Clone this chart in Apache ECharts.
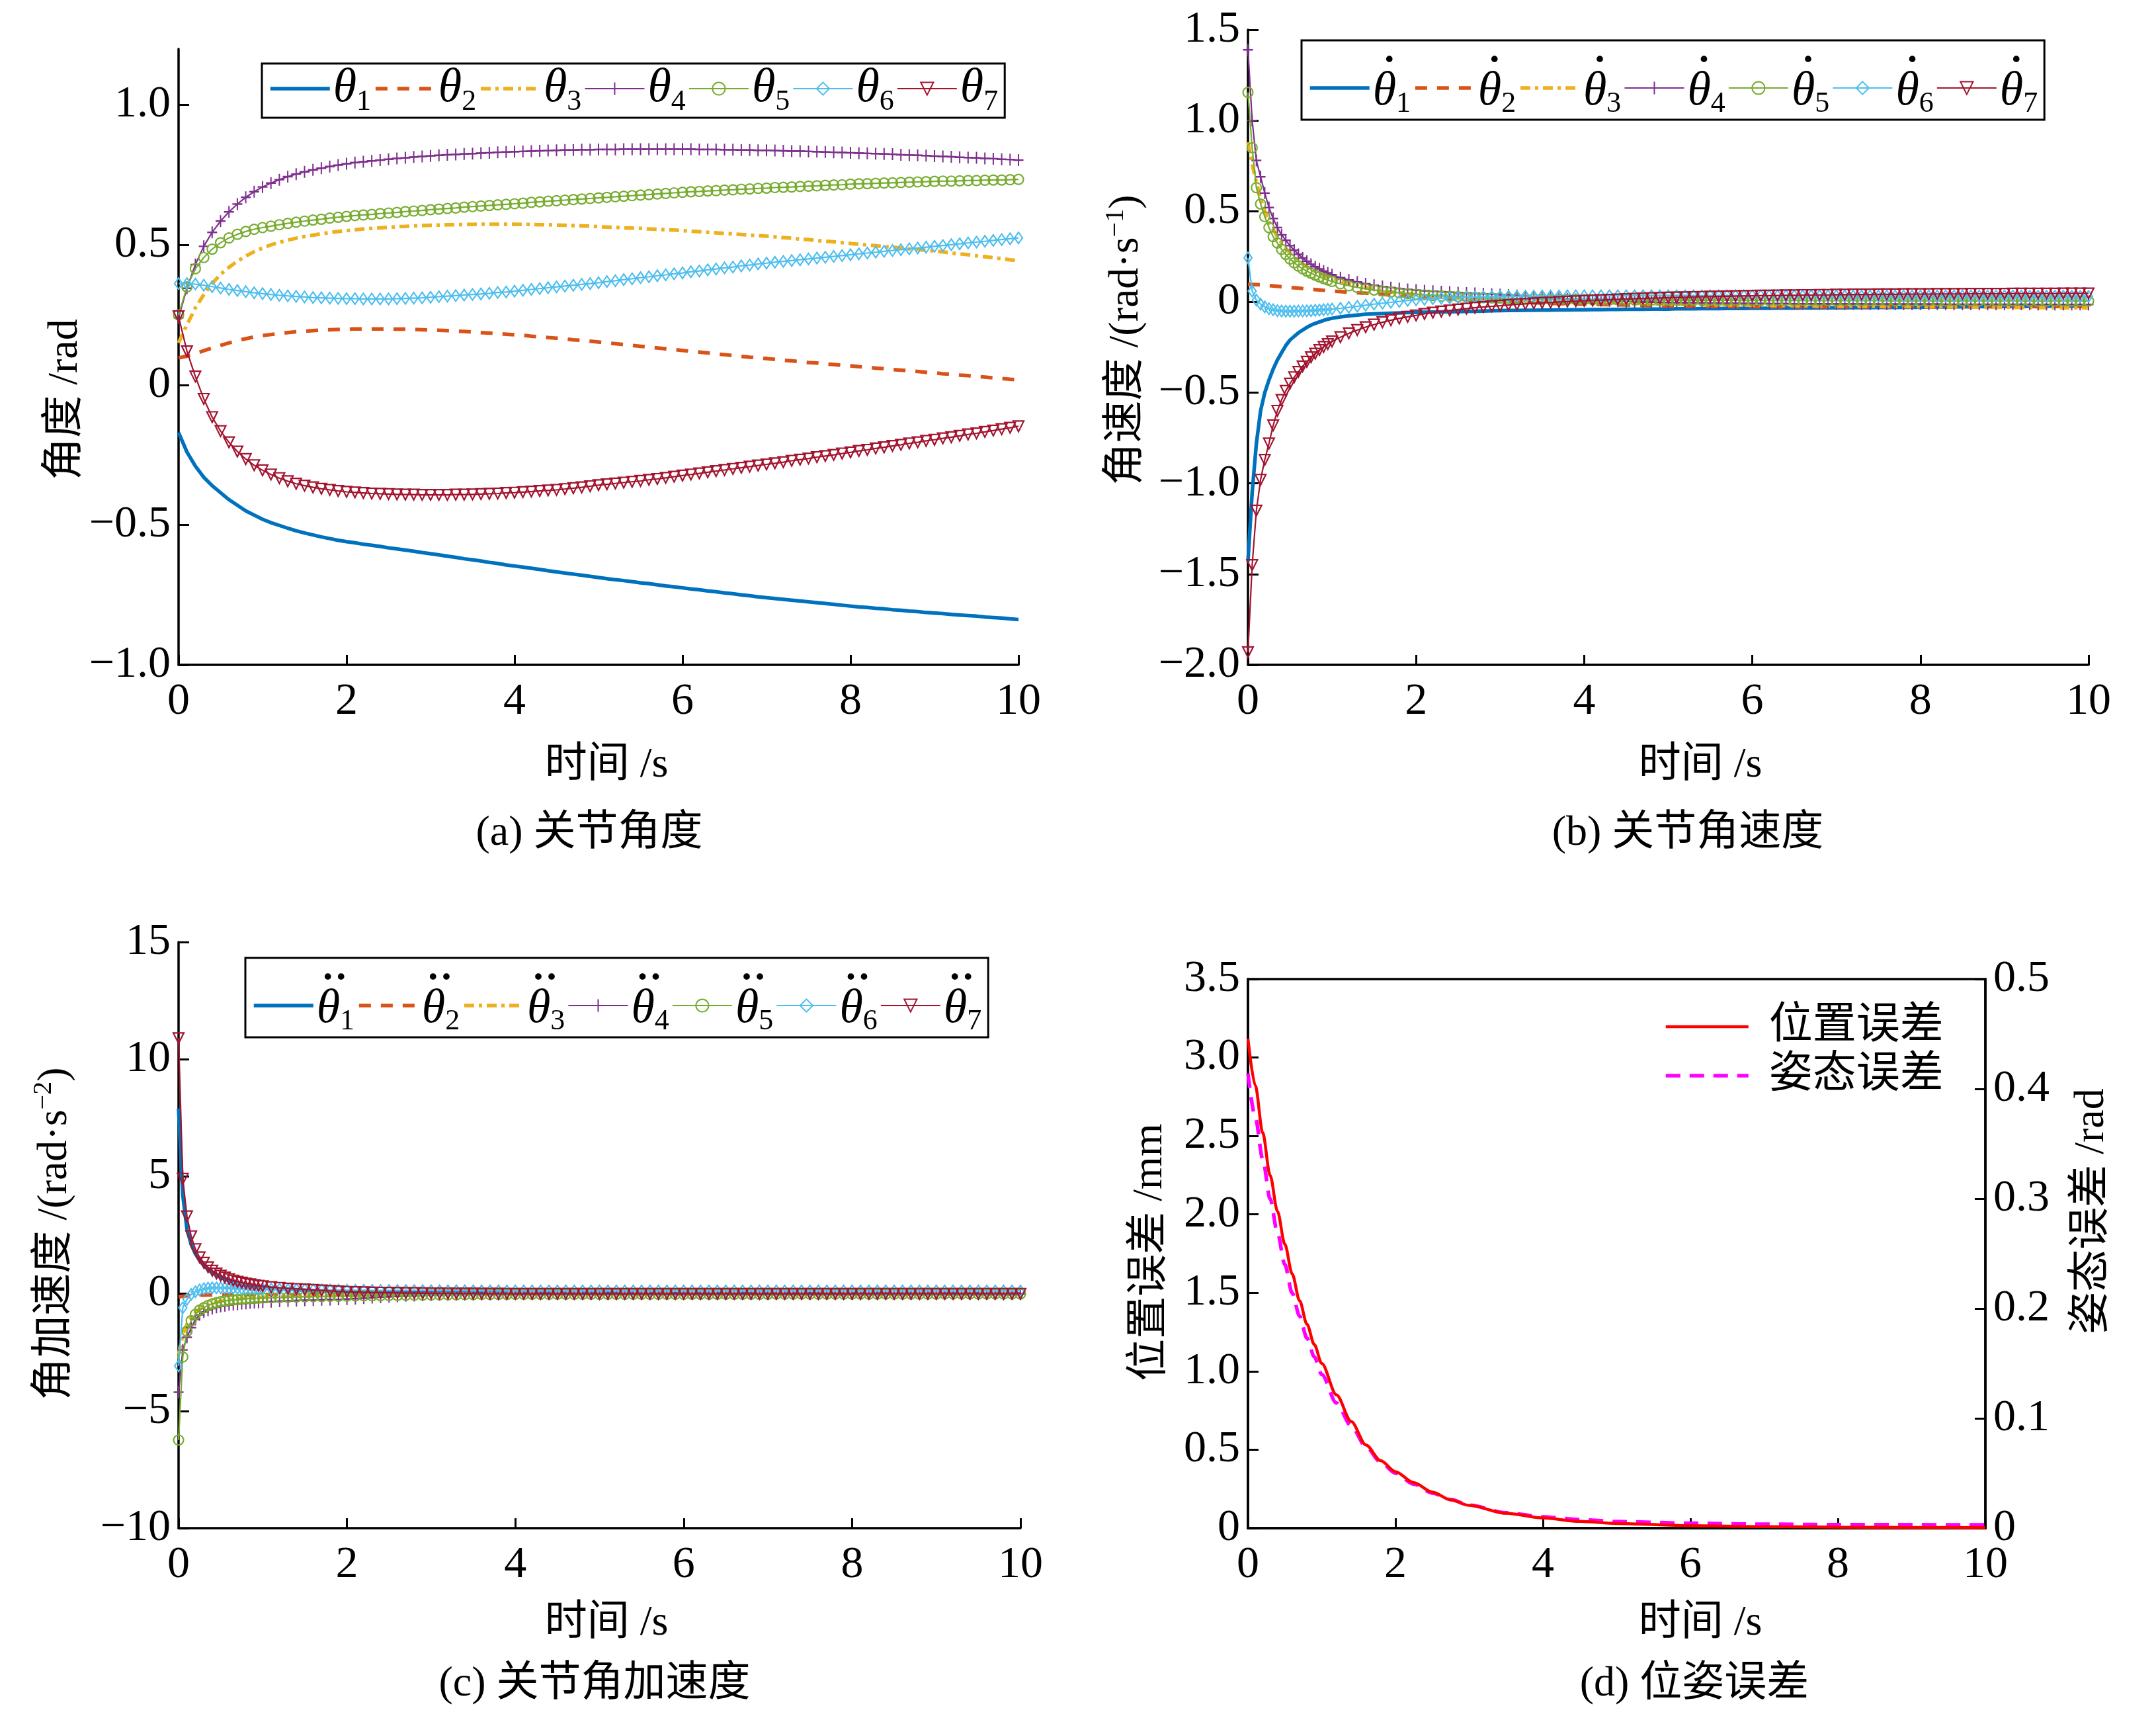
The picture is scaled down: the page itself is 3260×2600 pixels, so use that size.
<!DOCTYPE html>
<html>
<head>
<meta charset="utf-8">
<script src="https://cdn.jsdelivr.net/npm/echarts@6/dist/echarts.min.js"></script>
<style>
  html, body { margin: 0; padding: 0; background: #fff; }
  #main { width: 3260px; height: 2600px; }
</style>
</head>
<body>
<div id="main"></div>
<script>
// time axis for (a), step 0.1 s
const tA = [0,0.1,0.2,0.3,0.4,0.5,0.6,0.7,0.8,0.9,1,
  1.1,1.2,1.3,1.4,1.5,1.6,1.7,1.8,1.9,2,
  2.1,2.2,2.3,2.4,2.5,2.6,2.7,2.8,2.9,3,
  3.1,3.2,3.3,3.4,3.5,3.6,3.7,3.8,3.9,4,
  4.1,4.2,4.3,4.4,4.5,4.6,4.7,4.8,4.9,5,
  5.1,5.2,5.3,5.4,5.5,5.6,5.7,5.8,5.9,6,
  6.1,6.2,6.3,6.4,6.5,6.6,6.7,6.8,6.9,7,
  7.1,7.2,7.3,7.4,7.5,7.6,7.7,7.8,7.9,8,
  8.1,8.2,8.3,8.4,8.5,8.6,8.7,8.8,8.9,9,
  9.1,9.2,9.3,9.4,9.5,9.6,9.7,9.8,9.9,10]

// (a) 关节角度
const th1 = [-0.170,-0.240,-0.290,-0.330,-0.360,-0.385,-0.410,-0.430,-0.450,-0.465,-0.480,
  -0.492,-0.502,-0.512,-0.521,-0.529,-0.536,-0.543,-0.549,-0.555,-0.560,
  -0.564,-0.569,-0.573,-0.577,-0.582,-0.586,-0.590,-0.594,-0.599,-0.603,
  -0.607,-0.612,-0.616,-0.621,-0.625,-0.629,-0.634,-0.638,-0.643,-0.647,
  -0.651,-0.655,-0.659,-0.664,-0.668,-0.672,-0.676,-0.680,-0.684,-0.688,
  -0.692,-0.696,-0.699,-0.703,-0.707,-0.710,-0.714,-0.718,-0.721,-0.725,
  -0.729,-0.732,-0.736,-0.739,-0.743,-0.746,-0.750,-0.753,-0.757,-0.760,
  -0.763,-0.766,-0.769,-0.772,-0.775,-0.778,-0.781,-0.784,-0.787,-0.790,
  -0.793,-0.795,-0.798,-0.800,-0.803,-0.805,-0.808,-0.810,-0.813,-0.815,
  -0.817,-0.820,-0.822,-0.824,-0.826,-0.829,-0.831,-0.833,-0.836,-0.838]
const th2 = [0.096,0.103,0.112,0.122,0.132,0.141,0.150,0.158,0.165,0.171,0.176,
  0.180,0.184,0.187,0.190,0.192,0.194,0.196,0.197,0.198,0.199,
  0.200,0.200,0.200,0.200,0.200,0.199,0.199,0.198,0.197,0.196,
  0.195,0.194,0.192,0.191,0.189,0.187,0.185,0.183,0.181,0.179,
  0.177,0.174,0.172,0.169,0.167,0.164,0.161,0.159,0.156,0.153,
  0.150,0.147,0.144,0.141,0.138,0.135,0.132,0.129,0.126,0.123,
  0.120,0.117,0.114,0.111,0.108,0.105,0.102,0.099,0.097,0.094,
  0.091,0.088,0.086,0.083,0.080,0.078,0.075,0.073,0.070,0.068,
  0.065,0.063,0.060,0.058,0.055,0.053,0.050,0.048,0.045,0.043,
  0.040,0.038,0.035,0.033,0.030,0.028,0.025,0.023,0.020,0.018]
const th3 = [0.150,0.215,0.275,0.322,0.362,0.395,0.420,0.442,0.460,0.476,0.489,
  0.500,0.509,0.517,0.524,0.530,0.535,0.540,0.544,0.548,0.551,
  0.554,0.557,0.559,0.561,0.563,0.565,0.566,0.568,0.569,0.570,
  0.571,0.572,0.572,0.573,0.573,0.574,0.574,0.574,0.574,0.574,
  0.573,0.573,0.572,0.572,0.571,0.570,0.569,0.568,0.567,0.565,
  0.564,0.563,0.561,0.560,0.559,0.557,0.556,0.554,0.553,0.551,
  0.549,0.547,0.545,0.543,0.541,0.539,0.537,0.535,0.533,0.531,
  0.529,0.526,0.524,0.521,0.519,0.516,0.513,0.511,0.508,0.505,
  0.502,0.500,0.497,0.494,0.492,0.489,0.486,0.484,0.481,0.478,
  0.475,0.471,0.468,0.465,0.461,0.458,0.454,0.451,0.447,0.444]
const th4 = [0.240,0.345,0.430,0.495,0.545,0.585,0.618,0.646,0.670,0.690,0.707,
  0.721,0.733,0.744,0.753,0.761,0.768,0.774,0.780,0.785,0.790,
  0.794,0.797,0.800,0.803,0.806,0.809,0.811,0.814,0.816,0.818,
  0.820,0.822,0.823,0.825,0.826,0.828,0.829,0.831,0.832,0.833,
  0.834,0.835,0.836,0.837,0.838,0.839,0.839,0.840,0.840,0.841,
  0.841,0.841,0.842,0.842,0.842,0.842,0.842,0.842,0.842,0.842,
  0.842,0.841,0.841,0.841,0.840,0.840,0.839,0.839,0.838,0.838,
  0.837,0.836,0.835,0.835,0.834,0.833,0.832,0.831,0.830,0.829,
  0.828,0.827,0.826,0.825,0.824,0.822,0.821,0.820,0.819,0.817,
  0.816,0.815,0.813,0.812,0.811,0.809,0.808,0.806,0.805,0.803]
const th5 = [0.250,0.350,0.415,0.455,0.485,0.508,0.525,0.538,0.548,0.556,0.562,
  0.567,0.572,0.577,0.581,0.585,0.589,0.592,0.596,0.599,0.602,
  0.605,0.607,0.609,0.612,0.614,0.616,0.619,0.621,0.623,0.626,
  0.628,0.630,0.632,0.635,0.637,0.639,0.641,0.643,0.645,0.647,
  0.649,0.652,0.654,0.656,0.658,0.660,0.662,0.664,0.666,0.668,
  0.670,0.672,0.674,0.676,0.678,0.680,0.682,0.684,0.686,0.688,
  0.690,0.691,0.693,0.694,0.696,0.697,0.699,0.700,0.702,0.703,
  0.705,0.706,0.707,0.709,0.710,0.711,0.713,0.714,0.715,0.717,
  0.718,0.719,0.720,0.721,0.722,0.723,0.724,0.725,0.726,0.727,
  0.728,0.728,0.729,0.730,0.730,0.731,0.732,0.732,0.733,0.734]
const th6 = [0.362,0.362,0.360,0.356,0.351,0.346,0.341,0.337,0.333,0.329,0.326,
  0.323,0.320,0.318,0.316,0.314,0.312,0.311,0.310,0.309,0.308,
  0.308,0.307,0.307,0.307,0.307,0.308,0.309,0.310,0.311,0.313,
  0.315,0.317,0.319,0.321,0.323,0.325,0.327,0.330,0.332,0.335,
  0.338,0.341,0.344,0.347,0.350,0.353,0.356,0.359,0.362,0.365,
  0.369,0.372,0.376,0.379,0.383,0.386,0.390,0.393,0.397,0.400,
  0.404,0.407,0.411,0.414,0.418,0.421,0.425,0.428,0.432,0.435,
  0.438,0.441,0.444,0.447,0.450,0.453,0.456,0.459,0.462,0.465,
  0.468,0.471,0.474,0.477,0.480,0.483,0.486,0.489,0.492,0.495,
  0.498,0.501,0.504,0.507,0.510,0.513,0.516,0.519,0.522,0.525]
const th7 = [0.245,0.120,0.030,-0.050,-0.115,-0.165,-0.205,-0.238,-0.265,-0.287,-0.305,
  -0.320,-0.333,-0.344,-0.353,-0.360,-0.366,-0.371,-0.375,-0.379,-0.382,
  -0.384,-0.386,-0.388,-0.389,-0.390,-0.391,-0.392,-0.392,-0.393,-0.393,
  -0.393,-0.393,-0.392,-0.392,-0.391,-0.390,-0.389,-0.388,-0.386,-0.385,
  -0.383,-0.381,-0.379,-0.377,-0.375,-0.372,-0.369,-0.366,-0.362,-0.358,
  -0.355,-0.352,-0.349,-0.346,-0.343,-0.339,-0.336,-0.332,-0.328,-0.324,
  -0.320,-0.316,-0.312,-0.308,-0.304,-0.300,-0.296,-0.292,-0.288,-0.284,
  -0.280,-0.276,-0.271,-0.267,-0.263,-0.258,-0.254,-0.250,-0.245,-0.241,
  -0.236,-0.232,-0.227,-0.223,-0.218,-0.214,-0.209,-0.205,-0.200,-0.196,
  -0.191,-0.187,-0.182,-0.177,-0.173,-0.168,-0.163,-0.158,-0.153,-0.148]

// time axis for (b) and (c): 0.05 s up to 1 s, then 0.1 s
const tBC = [0,0.05,0.1,0.15,0.2,0.25,0.3,0.35,0.4,0.45,0.5,0.55,0.6,0.65,0.7,0.75,0.8,0.85,0.9,0.95,1,
  1.1,1.2,1.3,1.4,1.5,1.6,1.7,1.8,1.9,2,
  2.1,2.2,2.3,2.4,2.5,2.6,2.7,2.8,2.9,3,
  3.1,3.2,3.3,3.4,3.5,3.6,3.7,3.8,3.9,4,
  4.1,4.2,4.3,4.4,4.5,4.6,4.7,4.8,4.9,5,
  5.1,5.2,5.3,5.4,5.5,5.6,5.7,5.8,5.9,6,
  6.1,6.2,6.3,6.4,6.5,6.6,6.7,6.8,6.9,7,
  7.1,7.2,7.3,7.4,7.5,7.6,7.7,7.8,7.9,8,
  8.1,8.2,8.3,8.4,8.5,8.6,8.7,8.8,8.9,9,
  9.1,9.2,9.3,9.4,9.5,9.6,9.7,9.8,9.9,10]

// (b) 关节角速度
const dth1 = [-1.43,-1.05,-0.78,-0.60,-0.50,-0.43,-0.37,-0.32,-0.28,-0.24,-0.21,-0.19,-0.17,-0.155,-0.14,-0.128,-0.118,-0.11,-0.102,-0.095,-0.09,
  -0.082,-0.077,-0.072,-0.068,-0.066,-0.064,-0.062,-0.060,-0.059,-0.058,
  -0.057,-0.056,-0.055,-0.054,-0.053,-0.052,-0.051,-0.050,-0.049,-0.048,
  -0.047,-0.047,-0.046,-0.046,-0.045,-0.045,-0.044,-0.044,-0.043,-0.043,
  -0.042,-0.042,-0.041,-0.041,-0.040,-0.040,-0.040,-0.039,-0.039,-0.039,
  -0.038,-0.038,-0.038,-0.037,-0.037,-0.037,-0.036,-0.036,-0.036,-0.035,
  -0.035,-0.035,-0.034,-0.034,-0.034,-0.033,-0.033,-0.033,-0.032,-0.032,
  -0.032,-0.031,-0.031,-0.031,-0.030,-0.030,-0.030,-0.029,-0.029,-0.029,
  -0.028,-0.028,-0.028,-0.027,-0.027,-0.027,-0.026,-0.026,-0.026,-0.025,
  -0.025,-0.025,-0.024,-0.024,-0.024,-0.023,-0.023,-0.023,-0.022,-0.022]
const dth2 = [0.097,0.096,0.095,0.094,0.092,0.090,0.088,0.086,0.084,0.082,0.080,0.078,0.076,0.074,0.072,0.070,0.068,0.066,0.064,0.062,0.060,
  0.057,0.054,0.051,0.048,0.045,0.042,0.039,0.036,0.033,0.031,
  0.028,0.025,0.022,0.019,0.016,0.013,0.010,0.007,0.004,0.002,
  0.000,-0.002,-0.003,-0.005,-0.006,-0.008,-0.009,-0.010,-0.011,-0.012,
  -0.013,-0.014,-0.015,-0.016,-0.017,-0.018,-0.019,-0.020,-0.021,-0.022,
  -0.022,-0.023,-0.023,-0.024,-0.024,-0.025,-0.025,-0.025,-0.026,-0.026,
  -0.026,-0.026,-0.026,-0.027,-0.027,-0.027,-0.027,-0.027,-0.027,-0.027,
  -0.027,-0.027,-0.027,-0.027,-0.027,-0.027,-0.027,-0.027,-0.027,-0.027,
  -0.027,-0.027,-0.027,-0.027,-0.027,-0.026,-0.026,-0.026,-0.026,-0.026,
  -0.026,-0.026,-0.026,-0.026,-0.026,-0.025,-0.025,-0.025,-0.025,-0.025]
const dth3 = [0.88,0.76,0.66,0.57,0.50,0.44,0.40,0.36,0.325,0.295,0.27,0.247,0.227,0.209,0.193,0.179,0.167,0.156,0.146,0.137,0.129,
  0.114,0.101,0.090,0.080,0.071,0.063,0.056,0.050,0.045,0.040,
  0.036,0.032,0.028,0.025,0.022,0.019,0.017,0.015,0.013,0.011,
  0.009,0.007,0.006,0.004,0.003,0.002,0.001,0.000,-0.001,-0.002,
  -0.003,-0.004,-0.005,-0.006,-0.007,-0.008,-0.009,-0.010,-0.011,-0.012,
  -0.013,-0.014,-0.014,-0.015,-0.015,-0.016,-0.016,-0.017,-0.017,-0.018,
  -0.018,-0.019,-0.019,-0.020,-0.020,-0.021,-0.021,-0.022,-0.022,-0.023,
  -0.023,-0.023,-0.024,-0.024,-0.024,-0.025,-0.025,-0.025,-0.026,-0.026,
  -0.026,-0.027,-0.027,-0.027,-0.028,-0.028,-0.028,-0.029,-0.029,-0.029,
  -0.030,-0.030,-0.030,-0.031,-0.031,-0.031,-0.032,-0.032,-0.032,-0.033]
const dth4 = [1.39,1.00,0.78,0.69,0.60,0.52,0.46,0.41,0.37,0.34,0.31,0.285,0.262,0.242,0.224,0.208,0.194,0.182,0.170,0.160,0.150,
  0.134,0.121,0.110,0.100,0.092,0.085,0.079,0.074,0.069,0.065,
  0.062,0.059,0.056,0.054,0.051,0.049,0.047,0.045,0.043,0.041,
  0.038,0.035,0.032,0.029,0.026,0.023,0.020,0.017,0.014,0.012,
  0.010,0.008,0.006,0.004,0.002,0.001,0.000,-0.001,-0.002,-0.003,
  -0.004,-0.004,-0.005,-0.005,-0.006,-0.006,-0.007,-0.007,-0.008,-0.008,
  -0.008,-0.009,-0.009,-0.009,-0.010,-0.010,-0.010,-0.010,-0.011,-0.011,
  -0.011,-0.011,-0.011,-0.012,-0.012,-0.012,-0.012,-0.012,-0.012,-0.012,
  -0.012,-0.012,-0.013,-0.013,-0.013,-0.013,-0.013,-0.013,-0.013,-0.013,
  -0.013,-0.013,-0.013,-0.014,-0.014,-0.014,-0.014,-0.014,-0.014,-0.014]
const dth5 = [1.155,0.85,0.63,0.54,0.47,0.41,0.36,0.325,0.29,0.262,0.237,0.216,0.198,0.183,0.170,0.158,0.148,0.138,0.129,0.121,0.113,
  0.100,0.089,0.080,0.072,0.066,0.060,0.055,0.050,0.046,0.042,
  0.039,0.036,0.033,0.031,0.029,0.027,0.025,0.024,0.022,0.021,
  0.020,0.019,0.018,0.017,0.016,0.015,0.015,0.014,0.014,0.013,
  0.013,0.012,0.012,0.012,0.011,0.011,0.011,0.010,0.010,0.010,
  0.010,0.010,0.009,0.009,0.009,0.009,0.009,0.009,0.008,0.008,
  0.008,0.008,0.008,0.008,0.008,0.008,0.007,0.007,0.007,0.007,
  0.007,0.007,0.007,0.007,0.007,0.006,0.006,0.006,0.006,0.006,
  0.006,0.006,0.006,0.006,0.006,0.006,0.006,0.006,0.006,0.006,
  0.006,0.006,0.005,0.005,0.005,0.005,0.005,0.005,0.005,0.005]
const dth6 = [0.243,0.06,0.01,-0.012,-0.027,-0.037,-0.043,-0.048,-0.050,-0.051,-0.051,-0.051,-0.050,-0.050,-0.049,-0.048,-0.046,-0.045,-0.043,-0.041,-0.039,
  -0.035,-0.030,-0.024,-0.018,-0.012,-0.007,-0.002,0.003,0.008,0.012,
  0.015,0.018,0.020,0.022,0.024,0.025,0.027,0.028,0.029,0.030,
  0.031,0.031,0.032,0.032,0.033,0.033,0.033,0.034,0.034,0.034,
  0.034,0.034,0.034,0.034,0.034,0.034,0.034,0.034,0.034,0.034,
  0.034,0.034,0.034,0.034,0.034,0.034,0.034,0.034,0.034,0.034,
  0.034,0.034,0.034,0.034,0.034,0.034,0.034,0.034,0.034,0.034,
  0.033,0.033,0.033,0.033,0.033,0.033,0.033,0.033,0.033,0.033,
  0.033,0.033,0.033,0.033,0.033,0.033,0.033,0.033,0.033,0.033,
  0.033,0.033,0.032,0.032,0.032,0.032,0.032,0.032,0.031,0.031]
const dth7 = [-1.93,-1.45,-1.15,-0.98,-0.87,-0.78,-0.68,-0.60,-0.54,-0.49,-0.45,-0.415,-0.385,-0.355,-0.33,-0.305,-0.285,-0.265,-0.248,-0.232,-0.218,
  -0.194,-0.173,-0.155,-0.139,-0.125,-0.112,-0.101,-0.091,-0.082,-0.074,
  -0.066,-0.059,-0.053,-0.047,-0.042,-0.037,-0.032,-0.028,-0.024,-0.021,
  -0.017,-0.014,-0.011,-0.008,-0.005,-0.003,0.000,0.002,0.004,0.006,
  0.008,0.010,0.012,0.014,0.016,0.018,0.019,0.021,0.022,0.024,
  0.025,0.026,0.027,0.028,0.029,0.030,0.031,0.032,0.033,0.034,
  0.035,0.035,0.036,0.037,0.037,0.038,0.038,0.039,0.039,0.040,
  0.040,0.041,0.041,0.041,0.042,0.042,0.042,0.043,0.043,0.043,
  0.043,0.044,0.044,0.044,0.044,0.045,0.045,0.045,0.045,0.045,
  0.046,0.046,0.046,0.046,0.046,0.046,0.047,0.047,0.047,0.047]

// (c) 关节角加速度
const ddth1 = [7.9,4.2,2.75,2.1,1.7,1.42,1.2,1.03,0.9,0.79,0.7,0.62,0.56,0.5,0.46,0.42,0.38,0.35,0.32,0.3,0.28,
  0.24,0.21,0.19,0.17,0.15,0.13,0.12,0.11,0.1,0.09,
  0.08,0.07,0.065,0.06,0.055,0.05,0.045,0.04,0.035,0.03,
  0.028,0.026,0.024,0.022,0.02,0.018,0.016,0.015,0.014,0.013,
  0.012,0.012,0.011,0.011,0.010,0.010,0.009,0.009,0.009,0.008,
  0.008,0.008,0.008,0.007,0.007,0.007,0.007,0.007,0.006,0.006,
  0.006,0.006,0.006,0.006,0.006,0.006,0.006,0.006,0.006,0.006,
  0.005,0.005,0.005,0.005,0.005,0.005,0.005,0.005,0.005,0.005,
  0.005,0.005,0.005,0.005,0.005,0.005,0.005,0.005,0.005,0.005,
  0.004,0.004,0.004,0.004,0.004,0.004,0.004,0.004,0.004,0.004]
const ddth2 = [-0.13,-0.11,-0.09,-0.08,-0.07,-0.065,-0.06,-0.056,-0.053,-0.05,-0.048,-0.046,-0.044,-0.042,-0.04,-0.039,-0.038,-0.037,-0.036,-0.035,-0.034,
  -0.033,-0.032,-0.031,-0.030,-0.029,-0.028,-0.027,-0.026,-0.025,-0.024,
  -0.023,-0.022,-0.021,-0.020,-0.019,-0.018,-0.017,-0.016,-0.015,-0.014,
  -0.013,-0.012,-0.011,-0.010,-0.009,-0.009,-0.008,-0.008,-0.007,-0.007,
  -0.006,-0.006,-0.006,-0.006,-0.006,-0.006,-0.006,-0.006,-0.006,-0.006,
  -0.005,-0.005,-0.005,-0.005,-0.005,-0.005,-0.005,-0.005,-0.005,-0.005,
  -0.004,-0.004,-0.004,-0.004,-0.004,-0.004,-0.004,-0.004,-0.004,-0.004,
  -0.003,-0.003,-0.003,-0.003,-0.003,-0.003,-0.003,-0.003,-0.003,-0.003,
  -0.002,-0.002,-0.002,-0.002,-0.002,-0.002,-0.002,-0.002,-0.002,-0.002,
  -0.002,-0.002,-0.002,-0.002,-0.002,-0.002,-0.002,-0.002,-0.002,-0.002]
const ddth3 = [-2.6,-1.75,-1.3,-1.0,-0.8,-0.65,-0.55,-0.47,-0.41,-0.36,-0.32,-0.29,-0.26,-0.24,-0.22,-0.2,-0.19,-0.18,-0.17,-0.16,-0.15,
  -0.14,-0.13,-0.12,-0.11,-0.1,-0.095,-0.09,-0.085,-0.08,-0.075,
  -0.07,-0.065,-0.06,-0.055,-0.05,-0.045,-0.04,-0.036,-0.032,-0.028,
  -0.025,-0.022,-0.02,-0.018,-0.016,-0.014,-0.012,-0.011,-0.01,-0.009,
  -0.008,-0.008,-0.008,-0.008,-0.008,-0.008,-0.008,-0.008,-0.008,-0.008,
  -0.007,-0.007,-0.007,-0.007,-0.007,-0.007,-0.007,-0.007,-0.007,-0.007,
  -0.006,-0.006,-0.006,-0.006,-0.006,-0.006,-0.006,-0.006,-0.006,-0.006,
  -0.005,-0.005,-0.005,-0.005,-0.005,-0.005,-0.005,-0.005,-0.005,-0.005,
  -0.004,-0.004,-0.004,-0.004,-0.004,-0.004,-0.004,-0.004,-0.004,-0.004,
  -0.003,-0.003,-0.003,-0.003,-0.003,-0.003,-0.003,-0.003,-0.003,-0.003]
const ddth4 = [-4.2,-2.4,-1.86,-1.45,-1.1,-0.9,-0.78,-0.7,-0.63,-0.58,-0.54,-0.51,-0.48,-0.46,-0.44,-0.42,-0.41,-0.39,-0.38,-0.37,-0.36,
  -0.34,-0.32,-0.31,-0.29,-0.28,-0.27,-0.26,-0.25,-0.24,-0.23,
  -0.21,-0.19,-0.17,-0.15,-0.13,-0.11,-0.09,-0.08,-0.07,-0.06,
  -0.05,-0.045,-0.04,-0.035,-0.03,-0.026,-0.022,-0.019,-0.016,-0.013,
  -0.012,-0.012,-0.012,-0.012,-0.012,-0.012,-0.012,-0.012,-0.012,-0.012,
  -0.010,-0.010,-0.010,-0.010,-0.010,-0.010,-0.010,-0.010,-0.010,-0.010,
  -0.009,-0.009,-0.009,-0.009,-0.009,-0.009,-0.009,-0.009,-0.009,-0.009,
  -0.008,-0.008,-0.008,-0.008,-0.008,-0.008,-0.008,-0.008,-0.008,-0.008,
  -0.007,-0.007,-0.007,-0.007,-0.007,-0.007,-0.007,-0.007,-0.007,-0.007,
  -0.006,-0.006,-0.006,-0.006,-0.006,-0.006,-0.006,-0.006,-0.006,-0.006]
const ddth5 = [-6.24,-2.7,-1.6,-1.15,-0.88,-0.7,-0.6,-0.5,-0.43,-0.38,-0.34,-0.31,-0.28,-0.26,-0.245,-0.23,-0.215,-0.205,-0.195,-0.188,-0.18,
  -0.17,-0.16,-0.15,-0.14,-0.13,-0.125,-0.12,-0.11,-0.105,-0.1,
  -0.095,-0.09,-0.085,-0.08,-0.075,-0.07,-0.065,-0.06,-0.055,-0.05,
  -0.047,-0.044,-0.041,-0.038,-0.035,-0.033,-0.031,-0.029,-0.027,-0.025,
  -0.024,-0.024,-0.024,-0.024,-0.024,-0.024,-0.024,-0.024,-0.024,-0.024,
  -0.022,-0.022,-0.022,-0.022,-0.022,-0.022,-0.022,-0.022,-0.022,-0.022,
  -0.020,-0.020,-0.020,-0.020,-0.020,-0.020,-0.020,-0.020,-0.020,-0.020,
  -0.018,-0.018,-0.018,-0.018,-0.018,-0.018,-0.018,-0.018,-0.018,-0.018,
  -0.015,-0.015,-0.015,-0.015,-0.015,-0.015,-0.015,-0.015,-0.015,-0.015,
  -0.012,-0.012,-0.012,-0.012,-0.012,-0.012,-0.012,-0.012,-0.012,-0.012]
const ddth6 = [-3.08,-0.6,-0.24,-0.03,0.08,0.16,0.21,0.24,0.25,0.25,0.25,0.245,0.24,0.235,0.23,0.225,0.22,0.215,0.21,0.205,0.2,
  0.195,0.19,0.185,0.18,0.175,0.17,0.165,0.16,0.155,0.15,
  0.148,0.146,0.144,0.142,0.14,0.138,0.136,0.134,0.132,0.13,
  0.129,0.128,0.127,0.126,0.125,0.124,0.123,0.122,0.121,0.12,
  0.12,0.12,0.12,0.12,0.12,0.12,0.12,0.12,0.12,0.12,
  0.12,0.12,0.12,0.12,0.12,0.12,0.12,0.12,0.12,0.12,
  0.12,0.12,0.12,0.12,0.12,0.12,0.12,0.12,0.12,0.12,
  0.12,0.12,0.12,0.12,0.12,0.12,0.12,0.12,0.12,0.12,
  0.12,0.12,0.12,0.12,0.12,0.12,0.12,0.12,0.12,0.12,
  0.12,0.12,0.12,0.12,0.12,0.12,0.12,0.12,0.12,0.12]
const ddth7 = [10.9,4.9,3.3,2.45,1.9,1.55,1.32,1.13,0.98,0.86,0.77,0.69,0.62,0.56,0.51,0.47,0.43,0.4,0.37,0.34,0.32,
  0.28,0.25,0.22,0.2,0.18,0.16,0.14,0.12,0.1,0.08,
  0.07,0.06,0.05,0.045,0.04,0.035,0.03,0.025,0.02,0.015,
  0.012,0.01,0.008,0.006,0.004,0.002,0,-0.002,-0.004,-0.005,
  -0.006,-0.006,-0.006,-0.006,-0.006,-0.006,-0.006,-0.006,-0.006,-0.006,
  -0.006,-0.006,-0.006,-0.006,-0.006,-0.006,-0.006,-0.006,-0.006,-0.006,
  -0.005,-0.005,-0.005,-0.005,-0.005,-0.005,-0.005,-0.005,-0.005,-0.005,
  -0.005,-0.005,-0.005,-0.005,-0.005,-0.005,-0.005,-0.005,-0.005,-0.005,
  -0.004,-0.004,-0.004,-0.004,-0.004,-0.004,-0.004,-0.004,-0.004,-0.004,
  -0.004,-0.004,-0.004,-0.004,-0.004,-0.004,-0.004,-0.004,-0.004,-0.004]

// (d) 位姿误差
const tD = [0,0.1,0.2,0.3,0.4,0.5,0.6,0.7,0.8,0.9,1,1.2,1.4,1.6,1.8,2,2.25,2.5,2.75,3,3.5,4,4.5,5,6,7,8,9,10]
const posErr = [3.12,2.82,2.52,2.25,2.02,1.81,1.62,1.45,1.30,1.17,1.05,0.85,0.68,0.53,0.43,0.36,0.29,0.23,0.18,0.145,0.095,0.065,0.043,0.03,0.016,0.01,0.006,0.004,0.003]
const attErr = [0.414,0.374,0.336,0.300,0.269,0.240,0.214,0.193,0.173,0.156,0.140,0.114,0.093,0.074,0.060,0.050,0.040,0.032,0.026,0.021,0.014,0.0103,0.0079,0.006,0.0045,0.0036,0.0032,0.0031,0.003]

const namesA = ['θ1','θ2','θ3','θ4','θ5','θ6','θ7']
const namesB = ['θ\u03071','θ\u03072','θ\u03073','θ\u03074','θ\u03075','θ\u03076','θ\u03077']
const namesC = ['θ\u03081','θ\u03082','θ\u03083','θ\u03084','θ\u03085','θ\u03086','θ\u03087']
const namesD = ['位置误差','姿态误差']

const SERIF = '"Liberation Serif", "Noto Sans CJK SC", serif'
const BLACK = '#000'

// MATLAB line styles for the 7 joints
const jointStyle = [
  {c:'#0072BD', w:5.5, type:'solid'},
  {c:'#D95319', w:5.5, type:[18,15]},
  {c:'#EDB120', w:5.5, type:[15,7,5,7]},
  {c:'#7E2F8E', w:2.2, type:'solid', sym:'path://M0,5L10,5M5,0L5,10', size:[15,18]},
  {c:'#77AC30', w:2.2, type:'solid', sym:'circle', size:15},
  {c:'#4DBEEE', w:2.2, type:'solid', sym:'diamond', size:[12,17]},
  {c:'#A2142F', w:2.2, type:'solid', sym:'triangle', size:16, rot:180}
]

function pairs(t, v) {
  return t.map((x, i) => [x, v[i]])
}

function jointSeries(names, t, list, idx) {
  return list.map((v, i) => {
    let s = jointStyle[i]
    let o = {
      name: names[i],
      type: 'line',
      xAxisIndex: idx,
      yAxisIndex: idx,
      data: pairs(t, v),
      lineStyle: {color: s.c, width: s.w, type: s.type},
      itemStyle: {color: s.c},
      symbol: 'none',
      showSymbol: false,
      z: 2 + i
    }
    if (s.sym) {
      o.symbol = s.sym
      o.showSymbol = true
      o.symbolSize = s.size
      o.symbolRotate = s.rot || 0
      o.itemStyle = {color: 'rgba(255,255,255,0)', borderColor: s.c, borderWidth: 2.2}
    }
    return o
  })
}

function numFmt(d) {
  return function (v) {
    if (Math.abs(v) < 1e-9) return '0'
    return (v < 0 ? '\u2212' : '') + Math.abs(v).toFixed(d)
  }
}

const labelFont = {fontFamily: SERIF, fontSize: 68, color: BLACK}
const axisLineStyle = {show: true, onZero: false, lineStyle: {color: BLACK, width: 3.5}}

function xAx(idx) {
  return {
    gridIndex: idx, type: 'value', min: 0, max: 10, interval: 2,
    axisLine: axisLineStyle,
    axisTick: {show: true, inside: true, length: 15, lineStyle: {color: BLACK, width: 3}},
    axisLabel: Object.assign({margin: 22, formatter: numFmt(0)}, labelFont),
    splitLine: {show: false}
  }
}

function yAx(idx, min, max, interval, dec, custom, pos) {
  let tick = {show: true, inside: true, length: 16, lineStyle: {color: BLACK, width: 3}}
  let lab = Object.assign({margin: 12, formatter: numFmt(dec)}, labelFont)
  if (custom) {
    tick.customValues = custom
    lab.customValues = custom
  }
  return {
    gridIndex: idx, type: 'value', min: min, max: max, interval: interval,
    position: pos || 'left',
    axisLine: axisLineStyle,
    axisTick: tick,
    axisLabel: lab,
    splitLine: {show: false}
  }
}

// legend entries: plain lines get no symbol in their icon
function legendData(names, plain) {
  return names.map((n, i) => i < plain ? {name: n, itemStyle: {opacity: 0}} : {name: n})
}

function jointLegend(names, left, top, mark) {
  return {
    data: legendData(names, 3),
    left: left, top: top,
    orient: 'horizontal',
    itemWidth: 90, itemHeight: 24, itemGap: 4,
    padding: [2, 10, 2, 10],
    borderColor: BLACK, borderWidth: 3,
    backgroundColor: '#fff',
    selectedMode: false,
    lineStyle: {width: 'inherit'},
    formatter: function (n) {
      let body = '{t|θ}{s|' + n.slice(-1) + '}'
      return mark ? '{d|' + mark + '}\n' + body : body
    },
    textStyle: {
      color: BLACK,
      rich: {
        d: {fontFamily: '"Liberation Serif", serif', fontSize: 60, fontWeight: 'bold', lineHeight: 12,
            padding: [0, 0, 0, mark && mark.length > 1 ? 7 : 15], color: BLACK},
        t: {fontFamily: '"Liberation Serif", serif', fontStyle: 'italic', fontSize: 72, lineHeight: mark ? 80 : 84, color: BLACK},
        s: {fontFamily: '"Liberation Serif", serif', fontSize: 44, lineHeight: 44, verticalAlign: 'bottom', color: BLACK}
      }
    }
  }
}

function txt(text, x, y, rot, size) {
  return {
    type: 'text', x: x, y: y, rotation: rot ? Math.PI / 2 : 0, silent: true,
    style: {
      text: text, fill: BLACK,
      font: (size || 64) + 'px ' + SERIF,
      align: 'center', verticalAlign: 'middle',
      textAlign: 'center', textVerticalAlign: 'middle',
      rich: {
        n: {fontFamily: SERIF, fontSize: 64, lineHeight: 72},
        sup: {fontFamily: SERIF, fontSize: 40, lineHeight: 40, verticalAlign: 'top'}
      }
    }
  }
}

let myChart = echarts.init(document.getElementById('main'), null, {renderer: 'canvas'})

let series = []
  .concat(jointSeries(namesA, tA, [th1, th2, th3, th4, th5, th6, th7], 0))
  .concat(jointSeries(namesB, tBC, [dth1, dth2, dth3, dth4, dth5, dth6, dth7], 1))
  .concat(jointSeries(namesC, tBC, [ddth1, ddth2, ddth3, ddth4, ddth5, ddth6, ddth7], 2))
series.push({
  name: namesD[0], type: 'line', xAxisIndex: 3, yAxisIndex: 3,
  data: pairs(tD, posErr), symbol: 'none', showSymbol: false,
  smooth: 0.3, smoothMonotone: 'x',
  lineStyle: {color: '#FF0000', width: 4.5}, itemStyle: {color: '#FF0000'}, z: 3
})
series.push({
  name: namesD[1], type: 'line', xAxisIndex: 3, yAxisIndex: 4,
  data: pairs(tD, attErr), symbol: 'none', showSymbol: false,
  smooth: 0.3, smoothMonotone: 'x',
  lineStyle: {color: '#FF00FF', width: 5.5, type: [22, 14]}, itemStyle: {color: '#FF00FF'}, z: 2
})

let option = {
  backgroundColor: '#fff',
  animation: false,
  grid: [
    {left: 270, top: 74, width: 1270, height: 931},
    {left: 1887, top: 45, width: 1271, height: 960},
    {left: 270, top: 1424, width: 1273, height: 886},
    {left: 1887, top: 1480, width: 1115, height: 830, show: true, borderColor: BLACK, borderWidth: 3.5}
  ],
  xAxis: [xAx(0), xAx(1), xAx(2), xAx(3)],
  yAxis: [
    yAx(0, -1, 1.2, 0.5, 1, [-1, -0.5, 0, 0.5, 1]),
    yAx(1, -2, 1.5, 0.5, 1),
    yAx(2, -10, 15, 5, 0),
    yAx(3, 0, 3.5, 0.5, 1),
    yAx(3, 0, 0.5, 0.1, 1, null, 'right')
  ],
  legend: [
    jointLegend(namesA, 396, 96, ''),
    jointLegend(namesB, 1968, 61, '\u00B7'),
    jointLegend(namesC, 371, 1448, '\u00B7\u00B7'),
    {
      data: legendData(namesD, 2), left: 2511, top: 1514, orient: 'vertical',
      itemWidth: 125, itemHeight: 20, itemGap: 8, selectedMode: false,
      lineStyle: {width: 'inherit'},
      textStyle: {fontFamily: SERIF, fontSize: 66, color: BLACK, padding: [0, 0, 0, 26]}
    }
  ],
  graphic: [
    txt('时间 /s', 917, 1157),
    txt('时间 /s', 2571, 1157),
    txt('时间 /s', 917, 2454),
    txt('时间 /s', 2571, 2454),
    txt('(a) 关节角度', 891, 1260),
    txt('(b) 关节角速度', 2552, 1260),
    txt('(c) 关节角加速度', 899, 2546),
    txt('(d) 位姿误差', 2562, 2546),
    txt('角度 /rad', 99, 604, true),
    txt('{n|角速度 /(rad·s}{sup|\u22121}{n|)}', 1703, 514, true),
    txt('{n|角加速度 /(rad·s}{sup|\u22122}{n|)}', 83, 1865, true),
    txt('位置误差 /mm', 1739, 1893, true),
    txt('姿态误差 /rad', 3163, 1831, true)
  ],
  series: series
}
myChart.setOption(option)
</script>
</body>
</html>
